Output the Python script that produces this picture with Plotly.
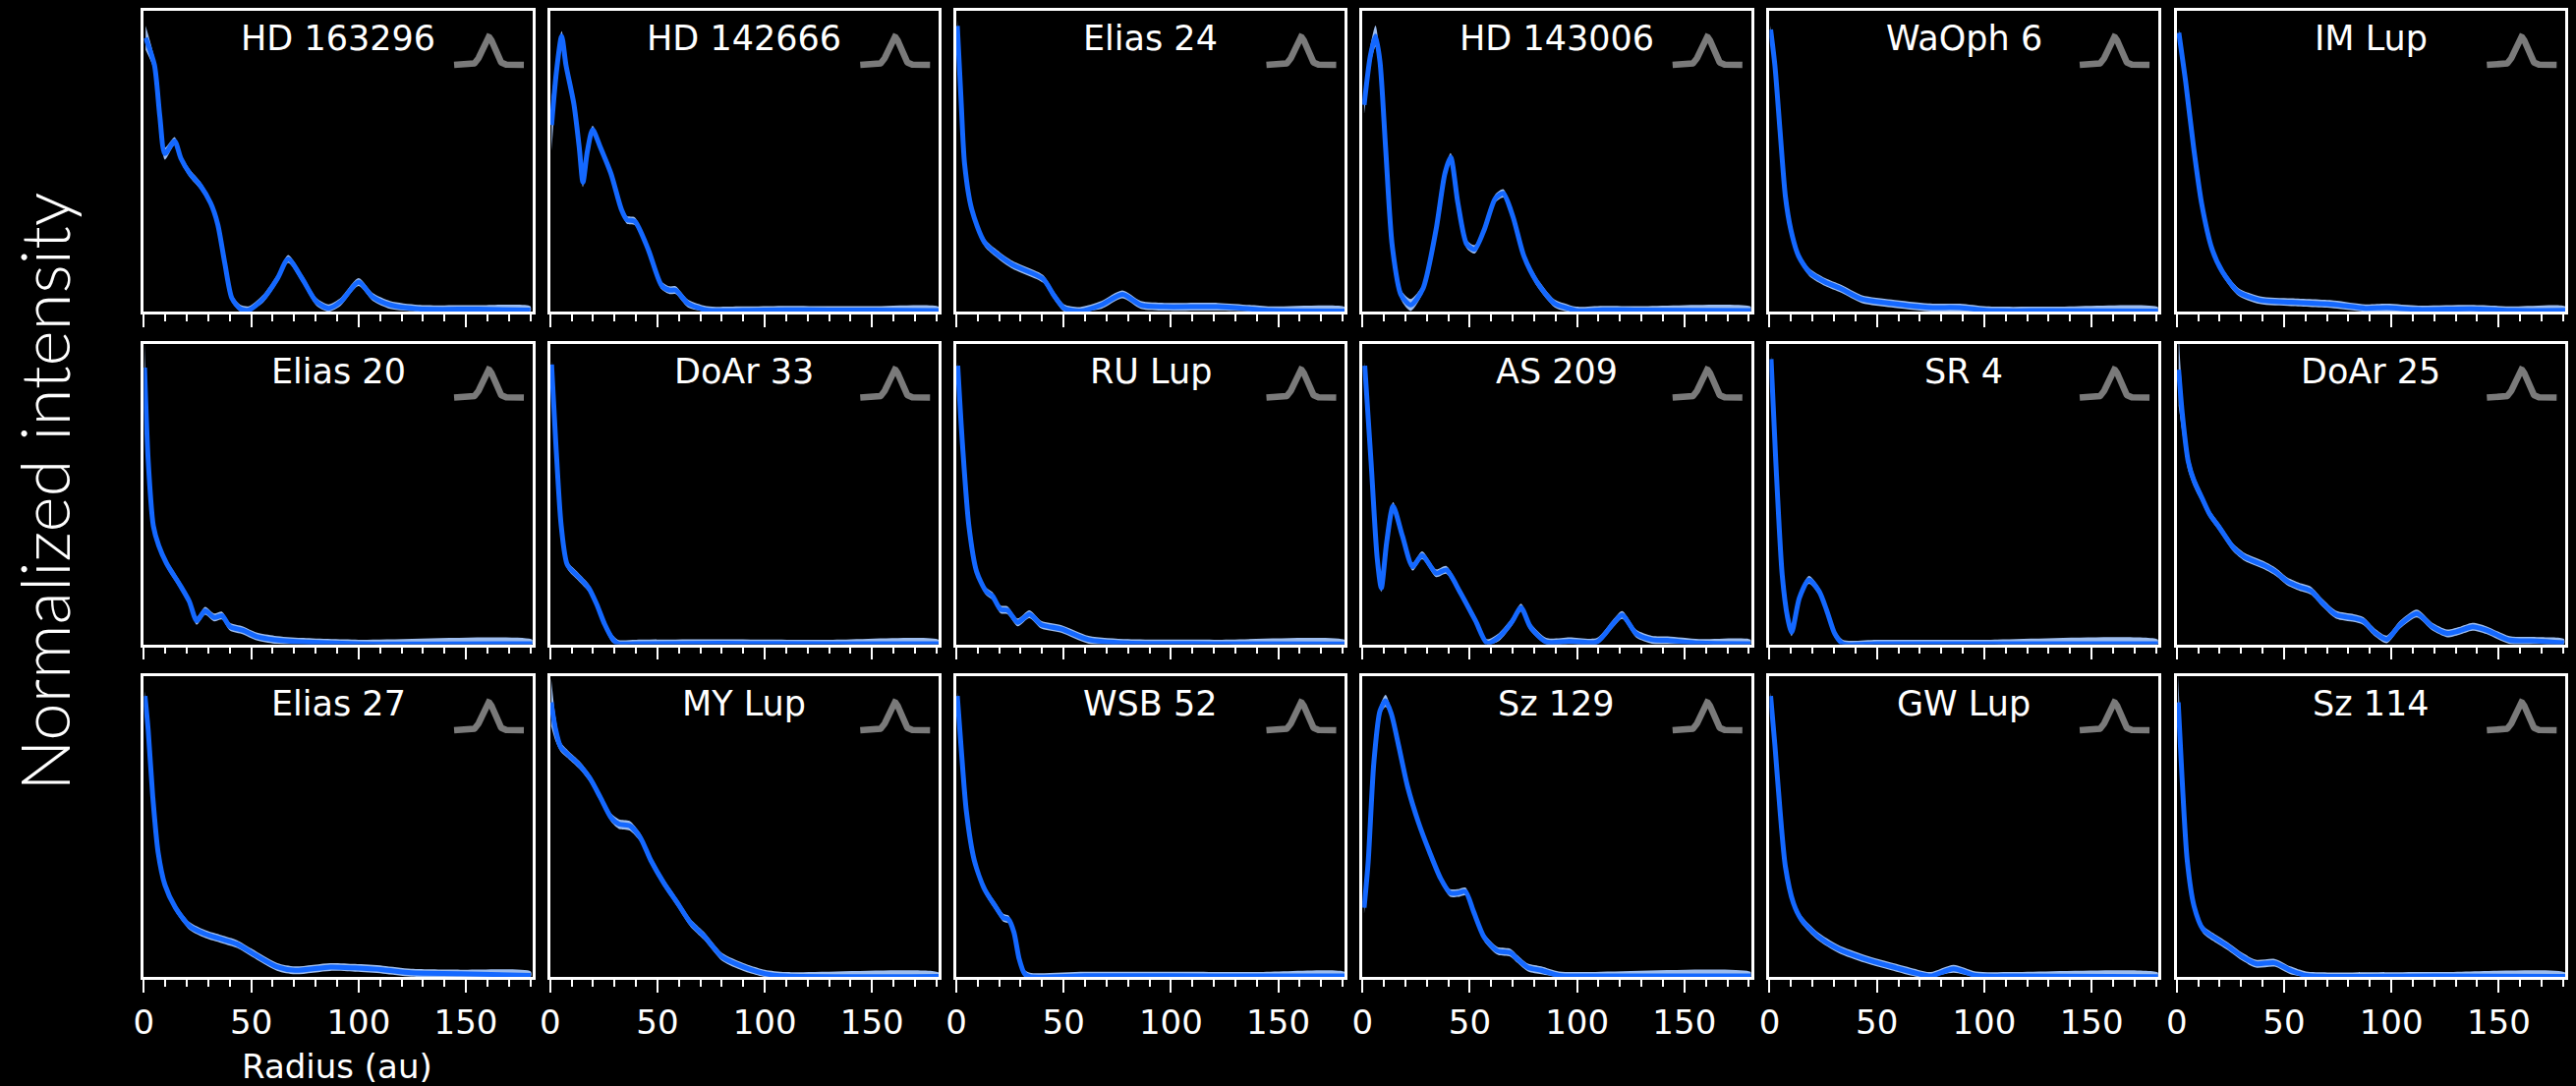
import numpy as np
import plotly.graph_objects as go

# ---------------- data (radius in au, normalized intensity, 1-sigma band) ----------------
names = ["HD 163296", "HD 142666", "Elias 24", "HD 143006", "WaOph 6", "IM Lup",
         "Elias 20", "DoAr 33", "RU Lup", "AS 209", "SR 4", "DoAr 25",
         "Elias 27", "MY Lup", "WSB 52", "Sz 129", "GW Lup", "Sz 114"]

hd163296_r = [0.8, 4.9, 7.4, 9.8, 14.3, 17.2, 21.3, 26.2, 31.1, 34.4, 37.7, 41.0, 45.0, 49.0, 55.7, 62.2, 67.2, 73.7, 80.3, 86.0, 91.7, 100.0, 106.5, 114.7, 127.8, 155.6, 180.0]
hd163296_i = [0.91, 0.82, 0.65, 0.525, 0.567, 0.51, 0.46, 0.42, 0.36, 0.29, 0.16, 0.044, 0.009, 0.005, 0.044, 0.11, 0.175, 0.11, 0.033, 0.011, 0.033, 0.098, 0.049, 0.022, 0.009, 0.008, 0.005]
hd163296_e = [0.04, 0.02, 0.015, 0.02, 0.013, 0.013, 0.013, 0.013, 0.013, 0.013, 0.013, 0.013, 0.013, 0.013, 0.013, 0.013, 0.013, 0.013, 0.013, 0.013, 0.013, 0.013, 0.013, 0.013, 0.013, 0.013, 0.013]

hd142666_r = [0.7, 3.0, 5.4, 7.4, 11.1, 13.6, 15.3, 17.3, 19.8, 23.5, 28.4, 33.3, 35.8, 39.5, 45.7, 51.9, 55.6, 58.5, 64.2, 72.9, 90.0, 110.0, 130.0, 150.0, 181.0]
hd142666_i = [0.62, 0.80, 0.916, 0.82, 0.69, 0.545, 0.43, 0.53, 0.605, 0.545, 0.458, 0.338, 0.305, 0.30, 0.207, 0.087, 0.071, 0.071, 0.027, 0.005, 0.004, 0.006, 0.005, 0.005, 0.003]
hd142666_e = [0.085, 0.04, 0.016, 0.013, 0.013, 0.013, 0.016, 0.013, 0.013, 0.013, 0.013, 0.013, 0.013, 0.013, 0.013, 0.013, 0.013, 0.013, 0.013, 0.013, 0.013, 0.013, 0.013, 0.013, 0.013]

elias24_r = [0.5, 2.2, 3.9, 7.2, 13.3, 25.6, 40.4, 45.4, 50.3, 57.7, 67.6, 77.4, 86.0, 97.0, 121.8, 136.6, 146.5, 181.0]
elias24_i = [0.95, 0.71, 0.49, 0.34, 0.229, 0.158, 0.109, 0.055, 0.011, 0.002, 0.022, 0.057, 0.022, 0.016, 0.016, 0.009, 0.004, 0.002]
elias24_e = [0.02] + [0.013] * 17

hd143006_r = [0.8, 3.7, 6.1, 8.2, 10.8, 13.9, 18.0, 22.5, 28.2, 34.3, 38.4, 41.1, 44.5, 48.6, 52.3, 56.8, 61.9, 65.6, 70.1, 75.2, 81.3, 89.5, 95.6, 99.7, 111.9, 128.0, 181.0]
hd143006_i = [0.687, 0.85, 0.916, 0.83, 0.545, 0.218, 0.055, 0.022, 0.076, 0.272, 0.458, 0.513, 0.36, 0.224, 0.207, 0.273, 0.376, 0.393, 0.316, 0.185, 0.098, 0.027, 0.011, 0.003, 0.006, 0.005, 0.003]
hd143006_e = [0.03, 0.032, 0.035, 0.02, 0.014, 0.014, 0.016, 0.02, 0.014, 0.014, 0.014, 0.014, 0.014, 0.014, 0.014, 0.014, 0.014, 0.014, 0.014, 0.014, 0.014, 0.013, 0.013, 0.013, 0.013, 0.013, 0.013]

waoph6_r = [0.5, 2.5, 4.9, 7.4, 9.9, 13.5, 18.5, 25.9, 33.3, 43.1, 56.7, 73.9, 88.7, 101.0, 130.0, 181.0]
waoph6_i = [0.938, 0.818, 0.6, 0.382, 0.273, 0.185, 0.131, 0.098, 0.076, 0.041, 0.027, 0.014, 0.013, 0.004, 0.003, 0.002]
waoph6_e = [0.013] * 16

imlup_r = [1.0, 4.2, 7.9, 11.6, 16.5, 21.4, 28.8, 38.7, 53.4, 73.2, 87.9, 97.8, 112.6, 137.2, 156.9, 181.0]
imlup_i = [0.927, 0.763, 0.545, 0.36, 0.207, 0.131, 0.065, 0.038, 0.031, 0.024, 0.011, 0.013, 0.007, 0.009, 0.004, 0.004]
imlup_e = [0.013] * 16

elias20_r = [0.3, 2.0, 4.4, 6.9, 10.6, 16.7, 21.1, 24.6, 28.5, 32.7, 36.4, 40.0, 46.2, 52.4, 60.9, 73.3, 100.0, 181.0]
elias20_i = [0.92, 0.61, 0.393, 0.328, 0.268, 0.198, 0.143, 0.078, 0.111, 0.089, 0.095, 0.059, 0.046, 0.026, 0.015, 0.008, 0.002, 0.002]
elias20_e = [0.08, 0.02] + [0.013] * 16

doar33_r = [0.7, 2.7, 5.2, 8.1, 13.1, 18.0, 21.7, 25.4, 29.1, 31.6, 40.0, 80.0, 130.0, 181.0]
doar33_i = [0.93, 0.665, 0.393, 0.263, 0.225, 0.187, 0.133, 0.067, 0.018, 0.002, 0.002, 0.003, 0.002, 0.002]
doar33_e = [0.013] * 14

rulup_r = [0.7, 2.9, 5.9, 9.5, 13.9, 16.9, 20.6, 23.9, 28.6, 34.1, 39.6, 48.8, 61.7, 80.0, 120.0, 181.0]
rulup_i = [0.926, 0.665, 0.393, 0.241, 0.176, 0.16, 0.116, 0.113, 0.073, 0.10, 0.065, 0.051, 0.015, 0.004, 0.002, 0.001]
rulup_e = [0.013] * 16

as209_r = [1.1, 4.0, 6.9, 8.8, 11.3, 14.3, 18.6, 23.4, 27.8, 34.4, 39.1, 45.3, 52.7, 58.1, 63.6, 69.8, 73.9, 78.3, 85.6, 96.5, 109.3, 116.6, 121.0, 127.6, 134.9, 142.2, 156.9, 181.0]
as209_i = [0.926, 0.61, 0.285, 0.187, 0.339, 0.459, 0.361, 0.258, 0.296, 0.236, 0.247, 0.176, 0.078, 0.004, 0.024, 0.076, 0.122, 0.057, 0.008, 0.01, 0.008, 0.067, 0.097, 0.035, 0.015, 0.013, 0.004, 0.002]
as209_e = [0.013] * 28

sr4_r = [0.7, 2.9, 5.9, 8.4, 10.3, 13.9, 18.3, 23.1, 26.7, 30.4, 34.1, 50.0, 100.0, 181.0]
sr4_i = [0.948, 0.61, 0.23, 0.089, 0.04, 0.154, 0.214, 0.176, 0.111, 0.035, 0.002, 0.002, 0.002, 0.002]
sr4_e = [0.013] * 14

doar25_r = [0.9, 2.7, 5.4, 8.2, 11.8, 15.4, 19.9, 26.3, 31.7, 40.8, 46.2, 51.7, 57.1, 62.5, 68.0, 74.3, 82.5, 87.0, 92.5, 97.9, 104.2, 111.9, 118.8, 126.0, 131.5, 137.8, 144.2, 155.0, 167.7, 180.4]
doar25_i = [0.913, 0.76, 0.607, 0.541, 0.486, 0.432, 0.388, 0.322, 0.29, 0.262, 0.24, 0.208, 0.191, 0.178, 0.137, 0.098, 0.087, 0.077, 0.038, 0.016, 0.066, 0.102, 0.06, 0.036, 0.044, 0.058, 0.047, 0.014, 0.011, 0.005]
doar25_e = [0.12, 0.06, 0.03, 0.02, 0.016] + [0.013] * 25

elias27_r = [0.5, 2.0, 4.1, 6.6, 9.8, 14.7, 21.3, 28.7, 36.0, 43.4, 52.4, 62.2, 70.4, 86.8, 98.3, 111.4, 124.5, 147.4, 180.2]
elias27_i = [0.934, 0.82, 0.601, 0.415, 0.306, 0.23, 0.169, 0.142, 0.126, 0.109, 0.071, 0.033, 0.022, 0.033, 0.03, 0.024, 0.014, 0.011, 0.005]
elias27_e = [0.016] + [0.013] * 18

mylup_r = [0.5, 2.5, 4.9, 8.6, 13.6, 18.5, 23.5, 28.4, 32.1, 37.0, 42.0, 46.9, 53.1, 59.3, 65.4, 71.6, 80.2, 90.1, 100.0, 109.9, 181.0]
mylup_i = [0.913, 0.825, 0.765, 0.738, 0.705, 0.661, 0.596, 0.53, 0.508, 0.503, 0.464, 0.388, 0.311, 0.246, 0.18, 0.137, 0.066, 0.033, 0.011, 0.003, 0.002]
mylup_e = [0.08, 0.04, 0.016, 0.013, 0.013, 0.013, 0.013, 0.014, 0.016, 0.016, 0.014, 0.013, 0.013, 0.013, 0.013, 0.013, 0.013, 0.013, 0.013, 0.013, 0.013]

wsb52_r = [0.5, 2.2, 4.7, 8.4, 13.3, 18.2, 21.9, 24.4, 26.9, 29.3, 31.8, 34.3, 60.0, 100.0, 140.0, 181.0]
wsb52_i = [0.934, 0.77, 0.552, 0.388, 0.29, 0.235, 0.197, 0.191, 0.148, 0.06, 0.011, 0.001, 0.004, 0.004, 0.003, 0.003]
wsb52_e = [0.013] * 16

sz129_r = [0.8, 2.7, 5.3, 8.2, 10.8, 13.5, 17.0, 21.0, 26.1, 31.3, 36.4, 40.9, 44.5, 48.0, 51.7, 56.8, 62.9, 69.0, 72.1, 77.2, 83.3, 91.5, 103.8, 181.0]
sz129_i = [0.23, 0.383, 0.71, 0.885, 0.918, 0.874, 0.765, 0.634, 0.514, 0.415, 0.328, 0.279, 0.279, 0.284, 0.219, 0.131, 0.087, 0.08, 0.06, 0.031, 0.022, 0.005, 0.003, 0.003]
sz129_e = [0.02, 0.016, 0.014, 0.016, 0.02, 0.014] + [0.013] * 18

gwlup_r = [0.5, 2.5, 4.9, 7.4, 11.1, 14.8, 22.2, 32.0, 44.3, 59.1, 69.0, 75.1, 85.7, 96.1, 113.3, 181.0]
gwlup_i = [0.934, 0.77, 0.552, 0.366, 0.246, 0.191, 0.137, 0.093, 0.06, 0.03, 0.011, 0.003, 0.027, 0.005, 0.003, 0.001]
gwlup_e = [0.013] * 16

sz114_r = [0.7, 2.5, 4.9, 8.1, 12.3, 18.5, 23.4, 30.8, 36.9, 45.6, 53.0, 60.3, 70.2, 120.0, 181.0]
sz114_i = [0.913, 0.661, 0.388, 0.235, 0.158, 0.126, 0.104, 0.066, 0.044, 0.047, 0.022, 0.005, 0.002, 0.003, 0.002]
sz114_e = [0.09, 0.03, 0.014] + [0.013] * 12

radii = [hd163296_r, hd142666_r, elias24_r, hd143006_r, waoph6_r, imlup_r,
         elias20_r, doar33_r, rulup_r, as209_r, sr4_r, doar25_r,
         elias27_r, mylup_r, wsb52_r, sz129_r, gwlup_r, sz114_r]
intens = [hd163296_i, hd142666_i, elias24_i, hd143006_i, waoph6_i, imlup_i,
          elias20_i, doar33_i, rulup_i, as209_i, sr4_i, doar25_i,
          elias27_i, mylup_i, wsb52_i, sz129_i, gwlup_i, sz114_i]
errs = [hd163296_e, hd142666_e, elias24_e, hd143006_e, waoph6_e, imlup_e,
        elias20_e, doar33_e, rulup_e, as209_e, sr4_e, doar25_e,
        elias27_e, mylup_e, wsb52_e, sz129_e, gwlup_e, sz114_e]

x_ticks = [0, 50, 100, 150]
x_tick_text = ["0", "50", "100", "150"]

# beam icon (Gaussian of the beam FWHM, in au)
beam_center = 160.5
beam_fwhm = 6.5
beam_span = [144.5, 177.0]
beam_base = 0.82
beam_height = 0.093

# ---------------- figure ----------------
W, H = 2621, 1105
col_left = [136, 551, 966, 1381, 1797, 2213]
panel_w = 397
row_top = [11, 349.5, 688]
panel_h = 306

LINE = "#1468ff"
BAND = "rgba(165,198,250,0.95)"
FONT = "DejaVu Sans"

fig = go.Figure()

bx = np.linspace(beam_span[0], beam_span[1], 120)
sig = beam_fwhm / 2.3548
by = beam_base + beam_height * np.exp(-0.5 * ((bx - beam_center) / sig) ** 2)

for idx in range(18):
    row, col = divmod(idx, 6)
    k = idx + 1
    xa = "x" if k == 1 else f"x{k}"
    ya = "y" if k == 1 else f"y{k}"
    r = np.array(radii[idx])
    v = np.array(intens[idx])
    e = np.array(errs[idx])
    up = v + e
    lo = np.clip(v - e, 0, None)
    fig.add_trace(go.Scatter(
        x=np.concatenate([r, r[::-1]]), y=np.concatenate([up, lo[::-1]]),
        fill="toself", fillcolor=BAND, mode="lines",
        line=dict(width=0, shape="spline", smoothing=0.7),
        xaxis=xa, yaxis=ya, hoverinfo="skip", showlegend=False))
    fig.add_trace(go.Scatter(
        x=r, y=v, mode="lines",
        line=dict(color=LINE, width=5, shape="spline", smoothing=0.7),
        xaxis=xa, yaxis=ya, showlegend=False, name=names[idx]))
    fig.add_trace(go.Scatter(
        x=bx, y=by, mode="lines", line=dict(color="#7a7a7a", width=6.5),
        xaxis=xa, yaxis=ya, showlegend=False, hoverinfo="skip"))

    x0 = col_left[col] / W
    x1 = (col_left[col] + panel_w) / W
    y1 = 1 - row_top[row] / H
    y0 = 1 - (row_top[row] + panel_h) / H
    kx = "xaxis" if k == 1 else f"xaxis{k}"
    ky = "yaxis" if k == 1 else f"yaxis{k}"
    fig.layout[kx] = dict(
        domain=[x0, x1], anchor=ya, range=[0, 181],
        showline=True, mirror=True, linecolor="white", linewidth=2.5,
        showgrid=False, zeroline=False,
        ticks="outside", ticklen=13, tickwidth=2.2, tickcolor="white",
        tickvals=x_ticks, ticktext=x_tick_text,
        showticklabels=(row == 2), ticklabelstandoff=1,
        tickfont=dict(family=FONT, size=34, color="white"),
        minor=dict(ticks="outside", dtick=10, tick0=0, ticklen=7, tickwidth=2, tickcolor="white", showgrid=False),
    )
    fig.layout[ky] = dict(
        domain=[y0, y1], anchor=xa, range=[0, 1],
        showline=True, mirror=True, linecolor="white", linewidth=2.5,
        showgrid=False, zeroline=False, ticks="", showticklabels=False,
    )
    fig.add_annotation(
        text=names[idx], xref=f"{xa} domain", yref=f"{ya} domain",
        x=0.5, y=1 - 28 / panel_h, xanchor="center", yanchor="middle",
        showarrow=False, font=dict(family=FONT, size=35, color="white"))

fig.add_annotation(
    text="Radius (au)", xref="paper", yref="paper",
    x=333 / W, y=1 - 1085 / H, xanchor="center", yanchor="middle",
    showarrow=False, font=dict(family=FONT, size=34, color="white"))
fig.add_annotation(
    text="Normalized intensity", xref="paper", yref="paper",
    x=34 / W, y=1 - 500 / H, xanchor="center", yanchor="middle", textangle=-90,
    showarrow=False, font=dict(family="Lato", size=69, color="white", weight=300))

fig.update_layout(
    width=W, height=H, margin=dict(l=0, r=0, t=0, b=0),
    paper_bgcolor="black", plot_bgcolor="black",
)

fig.write_html("out.html", post_script="document.body.style.margin='0';document.body.style.background='black';")
